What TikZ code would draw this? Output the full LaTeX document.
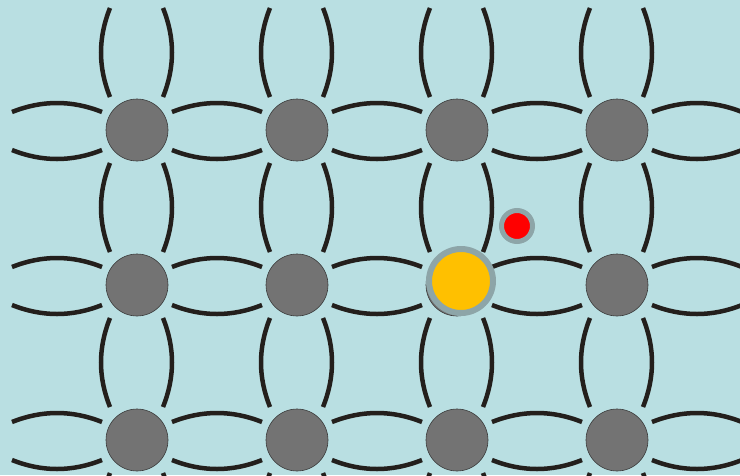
\documentclass[tikz,border=0pt]{standalone}
\usepackage{tikz}
\usetikzlibrary{calc}
\usepackage{xcolor}
\definecolor{bgblue}{HTML}{B9DFE2}
\definecolor{atomgrey}{HTML}{737373}
\definecolor{atomedge}{HTML}{3A3A3A}
\definecolor{bondblack}{HTML}{231F1C}
\definecolor{ringgrey}{HTML}{8DA5A8}
\definecolor{dopyellow}{HTML}{FFC000}
\definecolor{dopred}{HTML}{FF0000}
\tikzset{
  atom/.style={circle, fill=atomgrey, draw=atomedge, line width=0.6pt,
    minimum size=62pt, inner sep=0pt},
  bond/.style={draw=bondblack, line width=4.5pt},
  bigdopant/.style={circle, fill=dopyellow, draw=ringgrey, line width=6pt,
    minimum size=64pt, inner sep=0pt},
  smalldopant/.style={circle, fill=dopred, draw=ringgrey, line width=5pt,
    minimum size=31pt, inner sep=0pt},
}

\begin{document}
\begin{tikzpicture}[x=1pt, y=-1pt]
\fill[bgblue] (0,0) rectangle (740,475);
\useasboundingbox (0,0) rectangle (740,475);
% lattice sites (rows/columns 0 and 5/4 lie outside the frame)
\foreach \i in {0,...,5}
  \foreach \j in {0,...,4}
    \coordinate (s\i\j) at ({137+160*(\i-1)},{130+155*(\j-1)});
\begin{scope}
\clip (0,0) rectangle (740,475);
% horizontal bonds
\foreach \i in {0,...,4}
  \foreach \j in {1,2,3} {
    \pgfmathtruncatemacro{\n}{\i+1}
    \draw[bond] ($(s\i\j)+(35,-18)$) .. controls ($(s\i\j)+(65,-30)$) and ($(s\n\j)+(-65,-30)$) .. ($(s\n\j)+(-35,-18)$);
    \draw[bond] ($(s\i\j)+(35,20)$) .. controls ($(s\i\j)+(65,32)$) and ($(s\n\j)+(-65,32)$) .. ($(s\n\j)+(-35,20)$);
  }
% vertical bonds
\foreach \i in {1,...,4}
  \foreach \j in {0,...,3} {
    \pgfmathtruncatemacro{\n}{\j+1}
    \draw[bond] ($(s\i\j)+(-27,33)$) .. controls ($(s\i\j)+(-39,63)$) and ($(s\i\n)+(-39,-63)$) .. ($(s\i\n)+(-27,-33)$);
    \draw[bond] ($(s\i\j)+(26,33)$) .. controls ($(s\i\j)+(38,63)$) and ($(s\i\n)+(38,-63)$) .. ($(s\i\n)+(26,-33)$);
  }
\end{scope}
% atoms
\foreach \i in {1,...,4}
  \foreach \j in {1,2,3}
    \node[atom] (a\i\j) at (s\i\j) {};
% dopants
\node[bigdopant] (yellow) at ($(a32)+(4,-4)$) {};
\node[smalldopant] (red) at ($(a32)+(60,-59)$) {};
\end{tikzpicture}
\end{document}
